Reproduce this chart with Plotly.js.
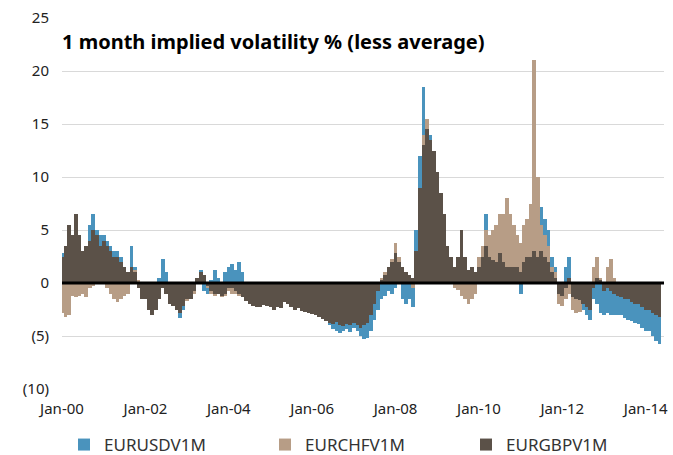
<!DOCTYPE html>
<html>
<head>
<meta charset="utf-8">
<script src="https://cdn.plot.ly/plotly-3.0.1.min.js"></script>
<style>
html,body{margin:0;padding:0;background:#fff;}
#chart{width:673px;height:455px;}
</style>
</head>
<body>
<div id="chart"></div>
<script>
// Monthly series, starting Jan-2000
const startYear = 2000;
const seriesNames = ['EURUSDV1M', 'EURCHFV1M', 'EURGBPV1M'];

const eurusd = [
  2.8, 3.2, 4.5, 4.5, 5, 4, 3, 3, 5.5, 6.5, 5, 4.5,
  4.5, 4, 3.5, 3, 3, 2.5, 1.5, 1, 3.5, 1.5, 0, -1,
  -1.5, -2.2, -2.8, -2, 0.5, 2.3, 1, -1.5, -2, -2.5, -3.3, -2.5,
  -1.2, -1, -0.5, 0.3, 1.2, -0.8, -1.0, 0.3, 1.2, 0.5, -0.3, 1,
  1.5, 1.8, 1.2, 2, 1.0, -1, -1.5, -2, -2, -2.2, -2, -2.1,
  -2.3, -2.5, -2.3, -2.4, -1.8, -2.0, -2.3, -2.5, -2.4, -2.6, -2.7, -2.8,
  -2.9, -3.0, -3.2, -3.4, -3.6, -4.0, -4.3, -4.5, -4.7, -4.5, -4.3, -4.6,
  -4.2, -4.5, -5.0, -5.3, -5.2, -4.5, -3.5, -2.5, -1.5, -1.2, -0.8, -1.0,
  -0.5, 0.5, -1.5, -2.0, -1.5, -2.3, 5, 12, 18.5, 15.5, 14, 11,
  9, 7.5, 5.5, 3.0, 2.0, 1.0, 1.5, 2.5, 1.5, 1.0, 1.5, 1.0,
  1.8, 3.5, 6.5, 4, 3.5, 3, 3, 2.5, 2, 2, 2, 1.5,
  -1, 1.5, 2, 2.5, 4, 5, 7.2, 6, 5, 2.5, 1.5, -0.5,
  -0.5, 1.5, 2.5, -0.5, -1.3, -2.0, -2.5, -3.0, -3.5, -1.5, -2.0, -2.8,
  -3.0, -2.8, -3.0, -3.0, -3.0, -3.0, -3.3, -3.5, -3.6, -3.8, -3.9, -4.2,
  -4.5, -4.5, -5.0, -5.5, -5.8
];

const eurchf = [
  -2.8, -3.2, -3.0, -1.2, -1.3, -1.2, -1.0, -1.3, -0.5, -0.3, 0.5, 1.0,
  0.5, -0.5, -1.0, -1.5, -1.8, -1.5, -1.2, -1.0, 1.5, 1.2, 0.3, -0.5,
  -1, -2, -2.5, -2, -1, -0.5, -1, -1.5, -2, -2, -2.5, -2,
  -1.7, -1.5, -1, 0.3, 0.5, 0.3, -0.5, -1, -1.2, -1, -1.3, -1.2,
  -0.8, -1, -1, -1.2, -1.3, -1.5, -2, -2, -2.2, -2.2, -2, -2.1,
  -2.3, -2.5, -2.3, -2.4, -1.4, -1.7, -2.3, -2.5, -2.4, -2.6, -2.7, -2.8,
  -2.9, -3.0, -3.2, -3.4, -3.6, -3.8, -3.9, -3.7, -4.0, -4.1, -3.9, -4.0,
  -3.8, -3.9, -4.0, -3.9, -3.7, -2.5, -1.5, -0.5, 0.5, 1.0, 1.5, 2.3,
  3.8, 2.5, 1.3, 0.5, 0.3, -0.5, 2.5, 8, 14, 15.5, 13, 11.5,
  9, 7, 4, 1.5, 0.5, -0.5, -0.7, -1.2, -1.5, -2.0, -1.5, -1.0,
  2.5, 3.5, 5, 4.5, 5, 5.5, 6.5, 6.5, 8, 6.5, 5.5, 4.5,
  3.8, 5.5, 6, 7.5, 21, 10, 5.5, 4.5, 3.5, 1.5, 1.0, -2.0,
  -2.2, -1.5, -1.0, -2.5, -2.8, -2.7, -1.8, -2.0, -2.3, 1.5, 2.5, 0.5,
  -0.5, 1.5, 2.3, 0.5, -0.5, -1.2, -1.3, -1.0, -1.5, -1.8, -1.8, -2.0,
  -2.2, -2.3, -2.5, -2.7, -2.8
];

const eurgbp = [
  2.5, 3.5, 5.5, 4.5, 6.5, 4.5, 3, 3.5, 4, 5, 4.5, 3.5,
  4, 3.5, 3, 2.5, 2.5, 2, 1.5, 1, 1.5, 1, -0.5, -1.5,
  -1.5, -2.5, -3, -2.5, -1.5, -0.5, -1, -2, -2.2, -2.5, -2.8, -2.2,
  -1.5, -1.5, -0.8, 0.5, 1.0, 0.8, -0.3, -0.8, -1, -1, -1.2, -1,
  -0.5, -0.5, -0.8, -1, -1.3, -1.7, -2, -2.2, -2.3, -2.3, -2.1, -2.2,
  -2.3, -2.5, -2.3, -2.4, -1.8, -2.0, -2.3, -2.5, -2.4, -2.6, -2.7, -2.8,
  -2.9, -3.0, -3.2, -3.4, -3.6, -3.8, -3.9, -3.7, -4.0, -4.1, -3.9, -4.0,
  -3.8, -4.0, -4.2, -4.0, -3.8, -3.0, -2.0, -0.8, 0.3, 0.8, 1.5, 2.0,
  2.8, 2.0, 1.5, 1.0, 0.8, 0.5, 3.0, 9.0, 13, 14.5, 13.5, 12.5,
  10.5, 8.5, 6.5, 3.5, 2.5, 1.5, 2.5, 5, 2.5, 1.2, 1.5, 1.0,
  1.5, 2.5, 3.5, 2.5, 2.2, 2.0, 2.8, 2.0, 1.5, 1.5, 1.5, 1.5,
  1.0, 2.0, 2.5, 2.5, 3.0, 2.5, 3.0, 2.5, 2.0, 1.0, 0.5, -1.0,
  -1.2, -0.5, 0.5, -1.3, -1.5, -1.6, -2.0, -2.3, -2.5, -0.5, 0.5, 0.3,
  -0.8, -0.5, -0.8, -1.0, -1.2, -1.3, -1.5, -1.5, -1.8, -2.0, -2.0, -2.3,
  -2.5, -2.5, -2.8, -3.0, -3.2
];

const xTickVals = ['2000-01-01','2002-01-01','2004-01-01','2006-01-01','2008-01-01','2010-01-01','2012-01-01','2014-01-01'];
const xTickText = ['Jan-00','Jan-02','Jan-04','Jan-06','Jan-08','Jan-10','Jan-12','Jan-14'];
const yTickVals = [-10, -5, 0, 5, 10, 15, 20, 25];
const yTickText = ['(10)', '(5)', '0', '5', '10', '15', '20', '25'];

const colors = ['#4a93bd', '#b79d86', '#5b5148'];

function monthDates(n) {
  const out = [];
  for (let i = 0; i < n; i++) {
    const y = startYear + Math.floor(i / 12);
    const m = (i % 12) + 1;
    out.push(y + '-' + String(m).padStart(2, '0') + '-01');
  }
  return out;
}

const BAR_WIDTH_MS = 33 * 24 * 3600 * 1000; // slightly over one month so bars touch

const allSeries = [eurusd, eurchf, eurgbp];
const traces = allSeries.map((vals, i) => ({
  type: 'bar',
  name: seriesNames[i],
  x: monthDates(vals.length),
  y: vals,
  width: BAR_WIDTH_MS,
  marker: {color: colors[i], line: {width: 0}},
  hoverinfo: 'x+y+name'
}));

const FONT = '"Noto Sans", "Open Sans", sans-serif';

const layout = {
  width: 673,
  height: 455,
  margin: {l: 62, r: 9, t: 18, b: 66, autoexpand: false},
  paper_bgcolor: '#ffffff',
  plot_bgcolor: '#ffffff',
  barmode: 'overlay',
  bargap: 0,
  font: {family: FONT, size: 15, color: '#222222'},
  title: {
    text: '<b>1 month implied volatility % (less average)</b>',
    font: {family: FONT, size: 20, color: '#000000'},
    xref: 'paper', x: 0, xanchor: 'left',
    yref: 'container', y: 1 - 42 / 455, yanchor: 'middle'
  },
  xaxis: {
    type: 'date',
    range: ['2000-01-01', '2014-06-10'],
    tickmode: 'array',
    tickvals: xTickVals,
    ticktext: xTickText,
    showgrid: false,
    zeroline: false,
    showline: false,
    ticks: '',
    ticklabelstandoff: 9,
    tickfont: {family: FONT, size: 15, color: '#222222'}
  },
  yaxis: {
    range: [-10, 25],
    tickmode: 'array',
    tickvals: yTickVals,
    ticktext: yTickText,
    showgrid: true,
    gridcolor: '#d9d9d9',
    gridwidth: 1,
    zeroline: false,
    showline: false,
    ticks: '',
    ticklabelstandoff: 12,
    tickfont: {family: FONT, size: 15, color: '#222222'}
  },
  shapes: [{
    type: 'line', xref: 'paper', yref: 'y',
    x0: 0, x1: 1, y0: 0, y1: 0,
    line: {color: '#000000', width: 3},
    layer: 'above'
  }],
  showlegend: true,
  legend: {
    orientation: 'h',
    xref: 'paper', yref: 'container',
    x: 2 / 602, xanchor: 'left',
    y: (455 - 427) / 455, yanchor: 'top',
    entrywidth: 156,
    entrywidthmode: 'pixels',
    font: {family: FONT, size: 17, color: '#333333'},
    traceorder: 'normal'
  }
};

Plotly.newPlot('chart', traces, layout, {displayModeBar: false, staticPlot: true});
</script>
</body>
</html>
